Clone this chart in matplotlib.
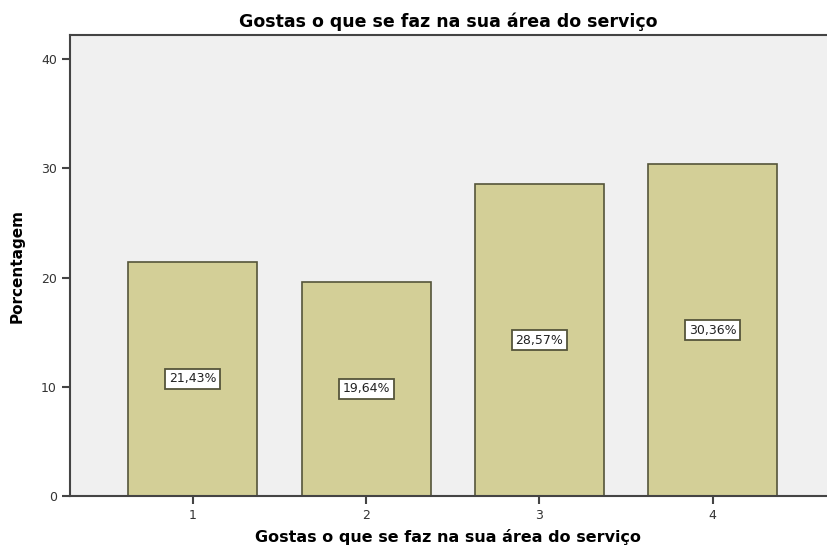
import matplotlib.pyplot as plt

# Percent of answers for each level
categorias = ['1', '2', '3', '4']
porcentagens = [21.43, 19.64, 28.57, 30.36]
rotulos = ['21,43%', '19,64%', '28,57%', '30,36%']

fig = plt.figure(figsize=(8.27, 5.49), dpi=100)
ax = fig.add_axes([0.0846, 0.0965, 0.9154, 0.8395])
ax.set_facecolor('#f0f0f0')

x = list(range(1, len(categorias) + 1))
ax.bar(x, porcentagens, width=0.745, color='#d3cf97', edgecolor='#55553a', linewidth=1.2, zorder=2)

# Value boxes at half height of each bar
for xi, v, r in zip(x, porcentagens, rotulos):
    ax.text(xi, v / 2, r, ha='center', va='center', fontsize=9, color='#222222', zorder=3,
            bbox=dict(boxstyle='square,pad=0.3', facecolor='white', edgecolor='#55553a', linewidth=1.3))

ax.set_xlim(0.29, 4.66)
ax.set_ylim(0, 42.2)
ax.set_xticks(x)
ax.set_xticklabels(categorias)
ax.set_yticks([0, 10, 20, 30, 40])

for s in ['left', 'bottom', 'top']:
    ax.spines[s].set_color('#444444')
    ax.spines[s].set_linewidth(1.5)
ax.spines['right'].set_visible(False)
ax.tick_params(axis='both', length=6, width=1.5, color='#444444', labelsize=9, labelcolor='#333333')

ax.set_title('Gostas o que se faz na sua área do serviço', fontsize=12.5, fontweight='bold', pad=6)
ax.set_xlabel('Gostas o que se faz na sua área do serviço', fontsize=11.5, fontweight='bold', labelpad=5)
ax.set_ylabel('Porcentagem', fontsize=11, fontweight='bold', labelpad=12)

fig.savefig('out.png', dpi=100)
